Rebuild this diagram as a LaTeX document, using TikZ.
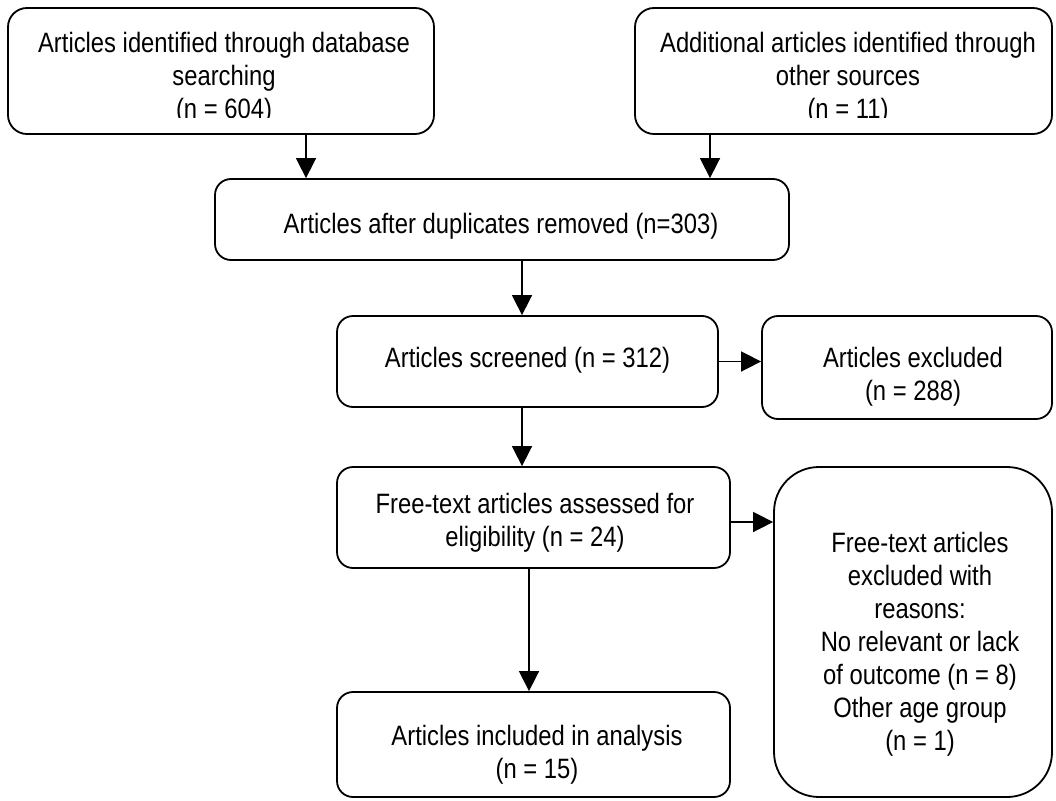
\documentclass[tikz,border=0pt]{standalone}
\usepackage{fontspec}
\setmainfont{Liberation Sans}[FakeStretch=0.85]
\usetikzlibrary{arrows.meta}
\begin{document}
\begin{tikzpicture}[x=1pt,y=-1pt,
  box/.style={draw, line width=1.8pt, rounded corners=16pt, inner sep=0pt},
  txt/.style={align=center, inner sep=0pt, anchor=north, font=\fontsize{28}{33}\selectfont},
  arr/.style={line width=1.6pt, -{Triangle[length=20pt,width=20pt]}}]
\useasboundingbox (0,0) rectangle (1056,800);
% boxes
\node[box, rounded corners=19pt, minimum width=426pt, minimum height=126pt] (b1) at (221,71) {};
\node[box, rounded corners=19pt, minimum width=417pt, minimum height=126pt] (b2) at (843.5,71) {};
\node[box, minimum width=574pt, minimum height=81pt] (b3) at (502,219.5) {};
\node[box, minimum width=381pt, minimum height=91pt] (b4) at (527.5,361.5) {};
\node[box, minimum width=290pt, minimum height=103pt] (b5) at (907,367.5) {};
\node[box, minimum width=393pt, minimum height=101pt] (b6) at (533.5,517.5) {};
\node[box, rounded corners=45pt, minimum width=278pt, minimum height=330pt] (b7) at (913,632) {};
\node[box, minimum width=393pt, minimum height=105pt] (b8) at (533.5,744.5) {};
% texts
\begin{scope}
\clip (0,0) rectangle (1056,117);
\node[txt] (t1) at (224,32.5) {Articles identified through database\\searching\\(n = 604)};
\node[txt] (t2) at (848,32.5) {Additional articles identified through\\other sources\\(n = 11)};
\end{scope}
\node[txt] (t3) at (501,213.5) {Articles after duplicates removed (n=303)};
\node[txt] (t4) at (527.5,347.5) {Articles screened (n = 312)};
\node[txt] (t5) at (913,347.5) {Articles excluded\\(n = 288)};
\node[txt] (t6) at (535,493.5) {Free-text articles assessed for\\eligibility (n = 24)};
\node[txt] (t7) at (920,531.5) {Free-text articles\\excluded with\\reasons:\\No relevant or lack\\of outcome (n = 8)\\Other age group\\(n = 1)};
\node[txt] (t8) at (537,724.5) {Articles included in analysis\\(n = 15)};
% connectors
\draw[arr] ([xshift=85pt]b1.south) -- ([xshift=85pt]b1.south |- b3.north);
\draw[arr] ([xshift=-133.5pt]b2.south) -- ([xshift=-133.5pt]b2.south |- b3.north);
\draw[arr] ([xshift=20pt]b3.south) -- ([xshift=20pt]b3.south |- b4.north);
\draw[arr] (b4.east) -- (b4.east -| b5.west);
\draw[arr] ([xshift=-5.5pt]b4.south) -- ([xshift=-5.5pt]b4.south |- b6.north);
\draw[arr] ([yshift=-4.5pt]b6.east) -- ([yshift=-4.5pt]b6.east -| b7.west);
\draw[arr] ([xshift=-4.5pt]b6.south) -- ([xshift=-4.5pt]b6.south |- b8.north);
\end{tikzpicture}
\end{document}
